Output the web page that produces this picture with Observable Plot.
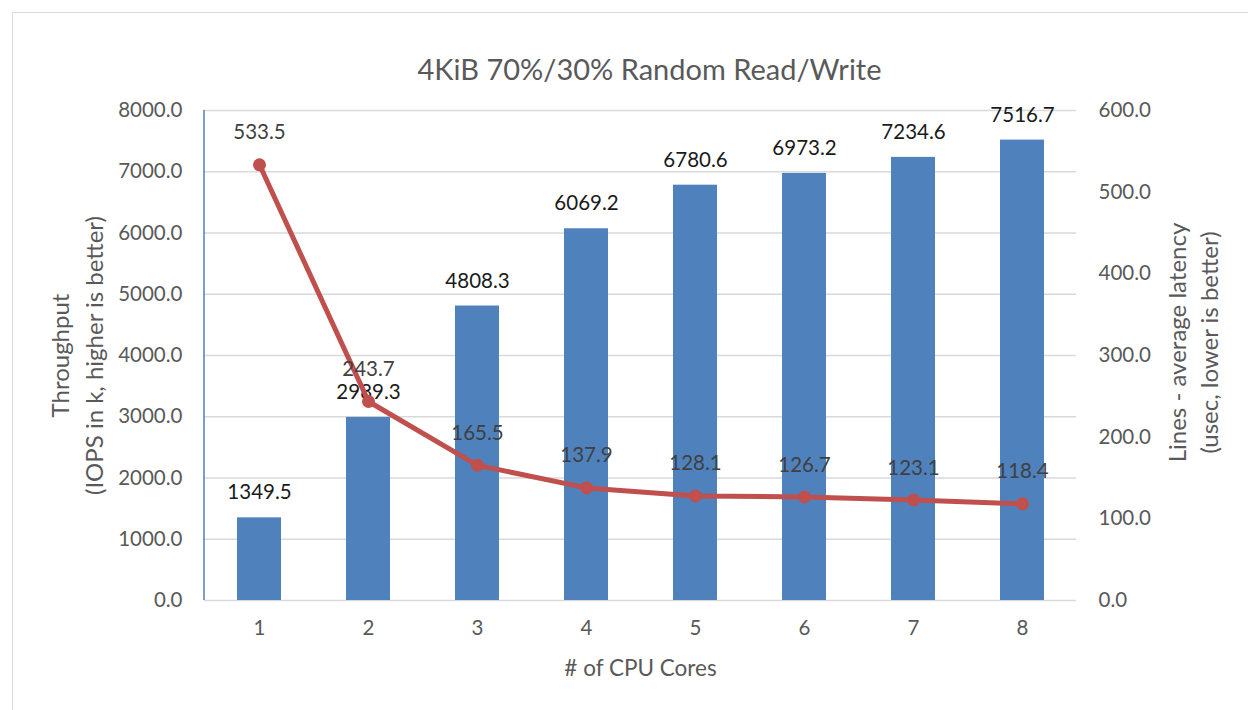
<!DOCTYPE html>
<html>
<head>
<meta charset="utf-8">
<script src="https://cdn.jsdelivr.net/npm/d3@7"></script>
<script src="https://cdn.jsdelivr.net/npm/@observablehq/plot@0.6"></script>
<style>
  html, body { margin: 0; padding: 0; background: #ffffff; overflow: hidden; }
  #frame { position: absolute; left: 12px; top: 12px; width: 1400px; height: 900px;
           border: 1.5px solid #d9d9d9; box-sizing: border-box; }
  #chart { position: absolute; left: 0; top: 0; }
</style>
</head>
<body>
<div id="frame"></div>
<div id="chart"></div>
<script>
// ---- data ----
const title = "4KiB 70%/30% Random Read/Write";
const cores = ["1", "2", "3", "4", "5", "6", "7", "8"];
const throughput = [1349.5, 2989.3, 4808.3, 6069.2, 6780.6, 6973.2, 7234.6, 7516.7];
const latency = [533.5, 243.7, 165.5, 137.9, 128.1, 126.7, 123.1, 118.4];
const leftTicks = [0, 1000, 2000, 3000, 4000, 5000, 6000, 7000, 8000];
const rightTicks = [0, 100, 200, 300, 400, 500, 600];
const xTitle = "# of CPU Cores";
const leftTitle = "Throughput\n(IOPS in k, higher is better)";
const rightTitle = "Lines - average latency\n(usec, lower is better)";

// ---- derived ----
const leftMax = d3.max(leftTicks);
const rightMax = d3.max(rightTicks);
const k = leftMax / rightMax; // map latency onto the throughput scale
const rows = cores.map((c, i) => ({ core: c, iops: throughput[i], lat: latency[i], latY: latency[i] * k }));

const FONT = "Lato, 'Open Sans', sans-serif";
const BLUE = "#4f81bd";
const RED = "#c0504d";
const AXIS = "#595959";

const leftAxisLine = (index, scales, values, dimensions) => {
  const ns = "http://www.w3.org/2000/svg";
  const l = document.createElementNS(ns, "line");
  const x = dimensions.marginLeft;
  l.setAttribute("x1", x); l.setAttribute("x2", x);
  l.setAttribute("y1", dimensions.marginTop);
  l.setAttribute("y2", dimensions.height - dimensions.marginBottom);
  l.setAttribute("stroke", BLUE);
  l.setAttribute("stroke-width", 1.5);
  return l;
};

const chart = Plot.plot({
  width: 1248,
  height: 710,
  marginLeft: 204,
  marginRight: 172,
  marginTop: 110,
  marginBottom: 110,
  style: { fontFamily: FONT, background: "transparent", overflow: "visible" },
  x: { type: "band", domain: cores, paddingInner: 0.6, paddingOuter: 0.3 },
  y: { domain: [0, leftMax] },
  marks: [
    Plot.gridY(leftTicks, { stroke: "#d9d9d9", strokeOpacity: 1, strokeWidth: 1.5 }),
    Plot.axisY(leftTicks, { anchor: "left", tickSize: 0, tickPadding: 22, fontSize: 20.5, fill: AXIS,
                            tickFormat: d => d.toFixed(1), label: null }),
    Plot.axisY(rightTicks.map(v => v * k), { anchor: "right", tickSize: 0, tickPadding: 22, fontSize: 20.5, fill: AXIS,
                            tickFormat: d => (d / k).toFixed(1), label: null }),
    Plot.axisX({ tickSize: 0, tickPadding: 20, fontSize: 20.5, fill: AXIS, label: null }),
    Plot.barY(rows, { x: "core", y: "iops", fill: BLUE }),
    leftAxisLine,
    Plot.text(rows, { x: "core", y: "iops", text: d => d.iops.toFixed(1), dy: -25, lineAnchor: "middle",
                      fontSize: 20.5, fill: "#1a1a1a" }),
    Plot.line(rows, { x: "core", y: "latY", stroke: RED, strokeWidth: 5, strokeLinejoin: "round", curve: "linear" }),
    Plot.dot(rows, { x: "core", y: "latY", r: 6.5, fill: RED, stroke: "none" }),
    Plot.text(rows, { x: "core", y: "latY", text: d => d.lat.toFixed(1), dy: -32, lineAnchor: "middle",
                      fontSize: 20.5, fill: "#404040" }),
    Plot.text([title], { frameAnchor: "top", dx: 9, dy: -40, lineAnchor: "middle", fontSize: 29, fill: AXIS }),
    Plot.text([xTitle], { frameAnchor: "bottom", dy: 68, lineAnchor: "middle", fontSize: 22.5, fill: AXIS }),
    Plot.text([leftTitle], { frameAnchor: "left", dx: -129.5, rotate: -90, textAnchor: "middle", lineAnchor: "middle",
                             lineHeight: 1.4, fontSize: 24, fill: AXIS }),
    Plot.text([rightTitle], { frameAnchor: "right", dx: 115, dy: -13, rotate: -90, textAnchor: "middle", lineAnchor: "middle",
                              lineHeight: 1.35, fontSize: 24, fill: AXIS })
  ]
});
document.getElementById("chart").appendChild(chart);
</script>
</body>
</html>
